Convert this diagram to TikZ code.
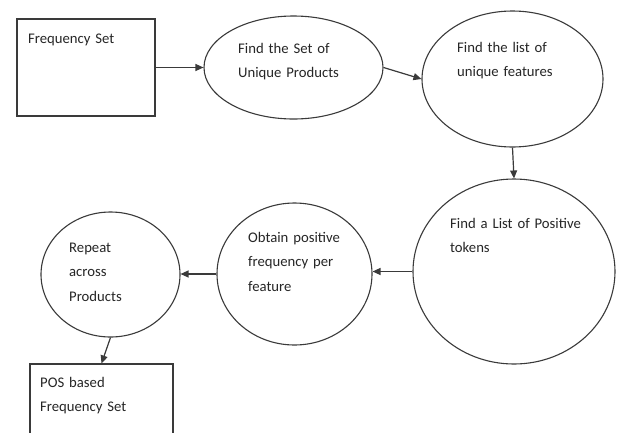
\documentclass[tikz,border=0pt]{standalone}
\usepackage{fontspec}
\setmainfont{Carlito}
\usetikzlibrary{shapes.geometric,arrows.meta}
\definecolor{linec}{HTML}{3A3A3A}
\definecolor{textc}{HTML}{262626}
\tikzset{
  boxnode/.style={draw=linec, line width=1.1pt, rectangle, inner sep=0pt},
  ellnode/.style={draw=linec, line width=1.1pt, ellipse, inner sep=0pt},
  lbl/.style={anchor=base west, inner sep=0pt, text=textc, text width=160pt, align=left,
    font=\fontsize{14.7}{24.5}\selectfont},
  flow/.style={draw=linec, line width=1.2pt, -{Triangle[length=8pt,width=7pt]}}
}
\begin{document}
\begin{tikzpicture}[x=1pt,y=-1pt]
\useasboundingbox (0,0) rectangle (619,432);
\fill[white] (0,0) rectangle (619,432);
% shapes
\node[boxnode, minimum width=138pt, minimum height=97pt] (b1) at (86,67.5) {};
\node[ellnode, minimum width=179pt, minimum height=103pt] (e1) at (293.5,67.5) {};
\node[ellnode, minimum width=181pt, minimum height=136pt] (e2) at (512.5,79) {};
\node[ellnode, minimum width=202pt, minimum height=185pt] (e3) at (514,271.5) {};
\node[ellnode, minimum width=155pt, minimum height=142pt] (e4) at (294.5,274) {};
\node[ellnode, minimum width=139pt, minimum height=125pt] (e5) at (110.5,274.5) {};
\node[boxnode, minimum width=143pt, minimum height=80pt] (b2) at (101.5,404) {};
% labels
\node[lbl] (t1) at (28,43) {Frequency Set};
\node[lbl] (t2) at (238,53) {Find the Set of\\Unique Products};
\node[lbl] (t3) at (457,52) {Find the list of\\unique features};
\node[lbl] (t4) at (450,228) {Find a List of Positive\\tokens};
\node[lbl] (t5) at (248,242) {Obtain positive\\frequency per\\feature};
\node[lbl] (t6) at (69,252) {Repeat\\across\\Products};
\node[lbl] (t7) at (40,387) {POS based\\Frequency Set};
% connectors
\draw[flow] (b1.east) -- (e1.west);
\draw[flow] (e1.east) -- (e2.west);
\draw[flow] (e2.south) -- (e3.north);
\draw[flow] (e3.west) -- (e3.west -| e4.east);
\draw[flow] (e4.west) -- (e4.west -| e5.east);
\draw[flow] (e5.south) -- (b2.north);
\end{tikzpicture}
\end{document}
